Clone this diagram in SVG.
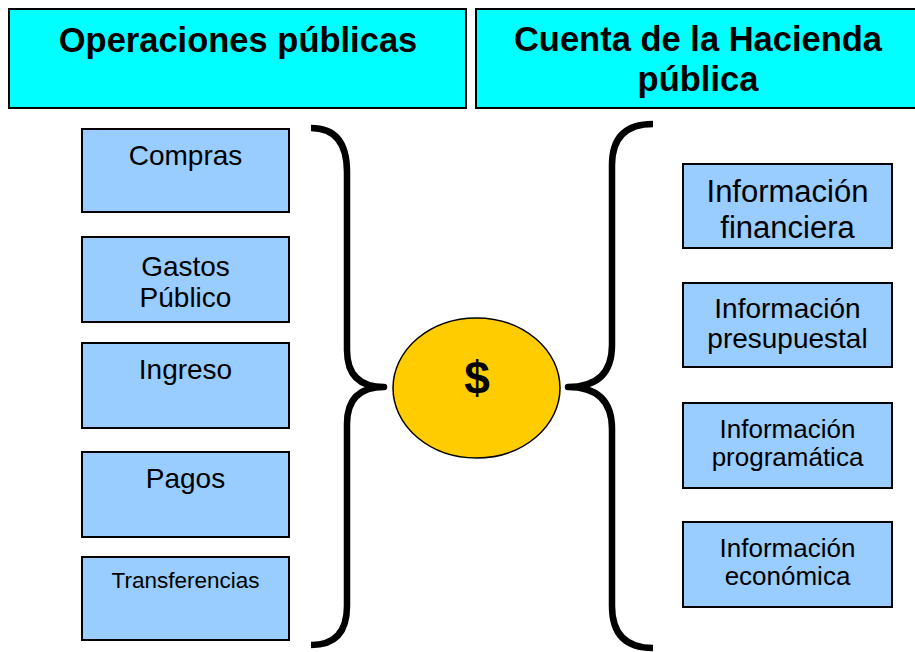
<svg xmlns="http://www.w3.org/2000/svg" width="915" height="652" viewBox="0 0 915 652">
<style>
.hdr{fill:#00FFFF;stroke:#000;stroke-width:2}
.box{fill:#99CCFF;stroke:#000;stroke-width:2}
.ht{font-family:"Liberation Sans",Arial,sans-serif;font-weight:bold;font-size:34.5px;fill:#000;text-anchor:middle}
.bt{font-family:"Liberation Sans",Arial,sans-serif;font-size:28px;fill:#000;text-anchor:middle}
.brace{fill:none;stroke:#000;stroke-width:6.5;stroke-linecap:butt;stroke-linejoin:round}
</style>
<rect width="915" height="652" fill="#fff"/>
<g id="hdr-operaciones">
<rect class="hdr" x="9" y="9" width="457" height="99"/>
<text class="ht" x="238" y="52">Operaciones públicas</text>
</g>
<g id="hdr-cuenta">
<rect class="hdr" x="476" y="9" width="450" height="99"/>
<text class="ht" x="698" y="51">Cuenta de la Hacienda</text>
<text class="ht" x="698" y="91">pública</text>
</g>
<g id="compras">
<rect class="box" x="82" y="129" width="207" height="83"/>
<text class="bt" x="185.5" y="165">Compras</text>
</g>
<g id="gastos">
<rect class="box" x="82" y="237" width="207" height="85"/>
<text class="bt" x="185.5" y="276">Gastos</text>
<text class="bt" x="185.5" y="307">Público</text>
</g>
<g id="ingreso">
<rect class="box" x="82" y="343" width="207" height="85"/>
<text class="bt" x="185.5" y="379">Ingreso</text>
</g>
<g id="pagos">
<rect class="box" x="82" y="452" width="207" height="85"/>
<text class="bt" x="185.5" y="488">Pagos</text>
</g>
<g id="transferencias">
<rect class="box" x="82" y="557" width="207" height="83"/>
<text class="bt" x="185.5" y="588" style="font-size:22.5px">Transferencias</text>
</g>
<g id="dinero">
<ellipse cx="476.5" cy="388" rx="83.5" ry="70" fill="#FFCC00" stroke="#000" stroke-width="1.5"/>
<text x="477" y="394" style="font-family:'Liberation Sans',Arial,sans-serif;font-weight:bold;font-size:46px;text-anchor:middle;fill:#000">$</text>
</g>
<g id="inf-financiera">
<rect class="box" x="683" y="164" width="209" height="84"/>
<text class="bt" x="787.5" y="202" style="font-size:31px">Información</text>
<text class="bt" x="787.5" y="238" style="font-size:31px">financiera</text>
</g>
<g id="inf-presupuestal">
<rect class="box" x="683" y="283" width="209" height="84"/>
<text class="bt" x="787.5" y="318">Información</text>
<text class="bt" x="787.5" y="348">presupuestal</text>
</g>
<g id="inf-programatica">
<rect class="box" x="683" y="403" width="209" height="85"/>
<text class="bt" x="787.5" y="438" style="font-size:26px">Información</text>
<text class="bt" x="787.5" y="466" style="font-size:26px">programática</text>
</g>
<g id="inf-economica">
<rect class="box" x="683" y="522" width="209" height="85"/>
<text class="bt" x="787.5" y="557" style="font-size:26px">Información</text>
<text class="bt" x="787.5" y="585" style="font-size:26px">económica</text>
</g>
<g id="connectors">
<path class="brace" d="M311,128 Q347,128 347,172 L347,350 Q347,387 384,387 Q347,387 347,424 L347,606 Q347,645 311,645"/>
<path class="brace" d="M653,124 Q612,124 612,165 L612,345 Q612,387 568,387 Q612,387 612,429 L612,606 Q612,648 653,648"/>
</g>
</svg>
